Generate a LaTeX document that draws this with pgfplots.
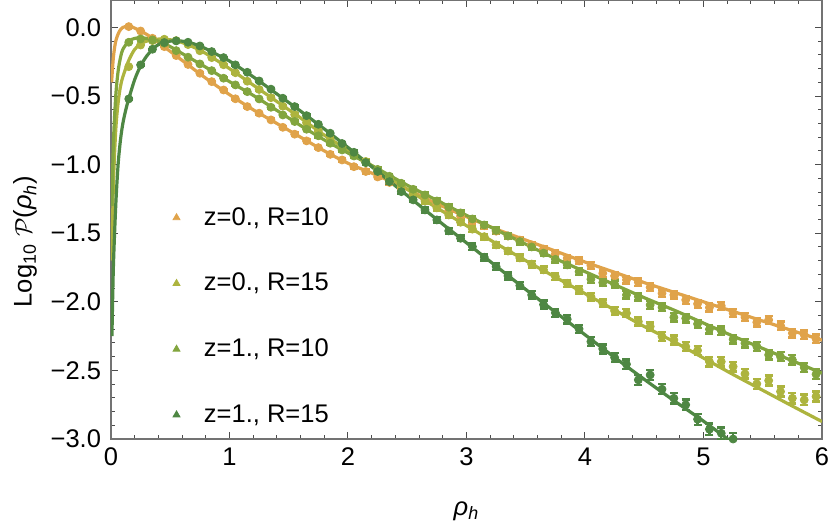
\documentclass[border=0pt]{standalone}
\usepackage{fontspec}
\setmainfont{Liberation Sans}
\usepackage{pgfplots}
\pgfplotsset{compat=1.18}
\usepackage{pgfplotstable}
\definecolor{cOrange}{HTML}{E0A34A}
\definecolor{cYellow}{HTML}{ADB43E}
\definecolor{cMid}{HTML}{82A53E}
\definecolor{cDark}{HTML}{4E8743}

% binned points: z=0., R=10
\pgfplotstableread{
x y
0.15 0.006
0.25 -0.026
0.35 -0.079
0.45 -0.140
0.55 -0.205
0.65 -0.270
0.75 -0.334
0.85 -0.395
0.95 -0.456
1.05 -0.520
1.15 -0.577
1.25 -0.625
1.35 -0.674
1.45 -0.728
1.55 -0.778
1.65 -0.827
1.75 -0.876
1.85 -0.925
1.95 -0.966
2.05 -1.015
2.15 -1.050
2.25 -1.090
2.35 -1.130
2.45 -1.175
2.55 -1.215
2.65 -1.255
2.75 -1.295
2.85 -1.335
2.95 -1.375
3.05 -1.410
3.15 -1.445
3.25 -1.485
3.35 -1.520
3.45 -1.550
3.55 -1.585
3.65 -1.615
3.75 -1.650
3.85 -1.682
3.95 -1.702
4.05 -1.736
4.15 -1.792
4.25 -1.811
4.35 -1.840
4.45 -1.857
4.55 -1.894
4.65 -1.938
4.75 -1.950
4.85 -1.986
4.95 -2.015
5.05 -2.042
5.15 -2.030
5.25 -2.083
5.35 -2.112
5.45 -2.149
5.55 -2.132
5.65 -2.173
5.75 -2.229
5.85 -2.241
5.95 -2.270
}\ptsA

% binned points: z=0., R=15
\pgfplotstableread{
x y
0.15 -0.286
0.25 -0.128
0.35 -0.096
0.45 -0.086
0.55 -0.096
0.65 -0.125
0.75 -0.170
0.85 -0.220
0.95 -0.272
1.05 -0.330
1.15 -0.392
1.25 -0.452
1.35 -0.512
1.45 -0.574
1.55 -0.635
1.65 -0.694
1.75 -0.755
1.85 -0.815
1.95 -0.870
2.05 -0.917
2.15 -0.977
2.25 -1.037
2.35 -1.097
2.45 -1.157
2.55 -1.210
2.65 -1.265
2.75 -1.315
2.85 -1.367
2.95 -1.420
3.05 -1.470
3.15 -1.525
3.25 -1.585
3.35 -1.630
3.45 -1.680
3.55 -1.725
3.65 -1.767
3.75 -1.815
3.85 -1.865
3.95 -1.913
4.05 -1.962
4.15 -2.010
4.25 -2.066
4.35 -2.083
4.45 -2.144
4.55 -2.180
4.65 -2.253
4.75 -2.278
4.85 -2.326
4.95 -2.355
5.05 -2.436
5.15 -2.436
5.25 -2.472
5.35 -2.525
5.45 -2.598
5.55 -2.574
5.65 -2.654
5.75 -2.703
5.85 -2.715
5.95 -2.690
}\ptsB

% binned points: z=1., R=10
\pgfplotstableread{
x y
0.15 -0.108
0.25 -0.084
0.35 -0.091
0.45 -0.115
0.55 -0.169
0.65 -0.217
0.75 -0.266
0.85 -0.315
0.95 -0.370
1.05 -0.419
1.15 -0.468
1.25 -0.521
1.35 -0.582
1.45 -0.638
1.55 -0.686
1.65 -0.742
1.75 -0.790
1.85 -0.844
1.95 -0.893
2.05 -0.937
2.15 -0.985
2.25 -1.035
2.35 -1.085
2.45 -1.136
2.55 -1.180
2.65 -1.221
2.75 -1.265
2.85 -1.310
2.95 -1.352
3.05 -1.396
3.15 -1.440
3.25 -1.480
3.35 -1.520
3.45 -1.561
3.55 -1.600
3.65 -1.645
3.75 -1.690
3.85 -1.731
3.95 -1.780
4.05 -1.835
4.15 -1.860
4.25 -1.872
4.35 -1.950
4.45 -1.962
4.55 -2.023
4.65 -2.040
4.75 -2.113
4.85 -2.120
4.95 -2.161
5.05 -2.200
5.15 -2.210
5.25 -2.273
5.35 -2.302
5.45 -2.326
5.55 -2.387
5.65 -2.400
5.75 -2.423
5.85 -2.479
5.95 -2.528
}\ptsC

% binned points: z=1., R=15
\pgfplotstableread{
x y
0.15 -0.521
0.25 -0.273
0.35 -0.159
0.45 -0.110
0.55 -0.098
0.65 -0.108
0.75 -0.135
0.85 -0.176
0.95 -0.220
1.05 -0.273
1.15 -0.327
1.25 -0.390
1.35 -0.450
1.45 -0.516
1.55 -0.577
1.65 -0.643
1.75 -0.706
1.85 -0.771
1.95 -0.846
2.05 -0.910
2.15 -0.985
2.25 -1.050
2.35 -1.124
2.45 -1.197
2.55 -1.257
2.65 -1.330
2.75 -1.403
2.85 -1.483
2.95 -1.537
3.05 -1.598
3.15 -1.675
3.25 -1.743
3.35 -1.811
3.45 -1.882
3.55 -1.950
3.65 -2.020
3.75 -2.080
3.85 -2.127
3.95 -2.198
4.05 -2.290
4.15 -2.343
4.25 -2.406
4.35 -2.455
4.45 -2.569
4.55 -2.533
4.65 -2.637
4.75 -2.703
4.85 -2.751
4.95 -2.856
5.05 -2.929
5.15 -2.958
5.25 -3.000
}\ptsD

% fitted curves
\pgfplotstableread{
x y
0.005 -0.40
0.02 -0.22
0.04 -0.10
0.07 -0.03
0.10 0.000
0.15 0.010
0.20 -0.005
0.30 -0.050
0.40 -0.110
0.60 -0.240
0.80 -0.370
1.00 -0.490
1.20 -0.600
1.40 -0.700
1.60 -0.800
1.80 -0.900
2.00 -0.990
2.25 -1.080
2.50 -1.180
2.75 -1.285
3.00 -1.380
3.25 -1.470
3.50 -1.550
3.75 -1.630
4.00 -1.710
4.25 -1.785
4.50 -1.860
4.75 -1.930
5.00 -2.000
5.25 -2.070
5.50 -2.140
5.75 -2.210
6.00 -2.280
}\fitA

\pgfplotstableread{
x y
0.008 -1.70
0.02 -1.15
0.04 -0.75
0.06 -0.55
0.08 -0.43
0.10 -0.36
0.15 -0.24
0.20 -0.16
0.25 -0.12
0.30 -0.10
0.40 -0.085
0.50 -0.090
0.60 -0.110
0.70 -0.145
0.80 -0.190
1.00 -0.300
1.20 -0.420
1.40 -0.540
1.60 -0.660
1.80 -0.785
2.00 -0.895
2.25 -1.035
2.50 -1.180
2.75 -1.315
3.00 -1.445
3.25 -1.575
3.50 -1.700
3.75 -1.820
4.00 -1.940
4.25 -2.060
4.50 -2.180
4.75 -2.290
5.00 -2.410
5.25 -2.530
5.50 -2.645
5.75 -2.760
6.00 -2.873
}\fitB

\pgfplotstableread{
x y
0.008 -1.30
0.02 -0.85
0.04 -0.50
0.06 -0.32
0.08 -0.22
0.10 -0.16
0.15 -0.10
0.20 -0.08
0.25 -0.075
0.30 -0.080
0.40 -0.100
0.50 -0.140
0.60 -0.190
0.80 -0.290
1.00 -0.395
1.20 -0.495
1.40 -0.605
1.60 -0.715
1.80 -0.820
2.00 -0.915
2.25 -1.030
2.50 -1.150
2.75 -1.260
3.00 -1.370
3.25 -1.475
3.50 -1.580
3.75 -1.685
4.00 -1.780
4.25 -1.875
4.50 -1.970
4.75 -2.060
5.00 -2.155
5.25 -2.250
5.50 -2.340
5.75 -2.430
6.00 -2.520
}\fitC

\pgfplotstableread{
x y
0.008 -2.25
0.02 -1.75
0.04 -1.30
0.06 -1.00
0.08 -0.82
0.10 -0.70
0.125 -0.60
0.15 -0.52
0.20 -0.38
0.25 -0.28
0.30 -0.21
0.35 -0.16
0.40 -0.125
0.50 -0.100
0.60 -0.100
0.70 -0.120
0.80 -0.155
0.90 -0.200
1.00 -0.245
1.20 -0.360
1.40 -0.485
1.60 -0.610
1.80 -0.740
2.00 -0.875
2.25 -1.050
2.50 -1.225
2.75 -1.400
3.00 -1.570
3.25 -1.740
3.50 -1.910
3.75 -2.075
4.00 -2.240
4.25 -2.405
4.50 -2.565
4.75 -2.720
5.00 -2.870
5.25 -3.030
}\fitD

\begin{document}
\begin{tikzpicture}
\useasboundingbox (-55.5bp,-42.5bp) rectangle (359.5bp,219.5bp);
\begin{axis}[
    scale only axis,
    width=355.5bp, height=219.5bp,
    xmin=0, xmax=6,
    ymin=-3, ymax=0.2,
    xtick={0,1,2,3,4,5,6},
    minor x tick num=4,
    ytick={-3,-2.5,-2,-1.5,-1,-0.5,0},
    yticklabels={−3.0,−2.5,−2.0,−1.5,−1.0,−0.5,0.0},
    minor y tick num=4,
    tick align=inside,
    major tick length=3.5bp,
    minor tick length=2bp,
    tick style={black!70, line width=0.5bp},
    axis line style={black!55, line width=0.6bp},
    ticklabel style={font=\fontsize{12.8}{15}\selectfont},
    xticklabel style={yshift=-1bp},
    yticklabel style={xshift=-1.5bp},
    xticklabels={0,1,2,3,4,5,6},
    xlabel={\textit{ρ}\textsubscript{\textit{h}}},
    ylabel={Log\textsubscript{10} $\mathcal{P}$(\textit{ρ}\textsubscript{\textit{h}})},
    every axis x label/.style={at={(axis description cs:0.5,-0.164)}, anchor=center,
        font=\fontsize{12.8}{15}\selectfont},
    every axis y label/.style={at={(axis description cs:-0.121,0.45)}, rotate=90, anchor=center,
        font=\fontsize{12.8}{15}\selectfont},
    legend style={draw=none, fill=none, at={(axis cs:0.47,-1.25)}, anchor=north west,
        font=\fontsize{12.8}{15}\selectfont, row sep=18.5bp,
        /tikz/every odd column/.append style={column sep=10bp}},
    legend cell align=left,
]
% legend markers
\addlegendimage{only marks, mark=triangle*, mark size=2bp, color=cOrange}
\addlegendentry{z=0., R=10}
\addlegendimage{only marks, mark=triangle*, mark size=2bp, color=cYellow}
\addlegendentry{z=0., R=15}
\addlegendimage{only marks, mark=triangle*, mark size=2bp, color=cMid}
\addlegendentry{z=1., R=10}
\addlegendimage{only marks, mark=triangle*, mark size=2bp, color=cDark}
\addlegendentry{z=1., R=15}

% fits
\addplot[forget plot, cOrange, line width=1.6bp, smooth] table {\fitA};
\addplot[forget plot, cYellow, line width=1.6bp, smooth] table {\fitB};
\addplot[forget plot, cMid, line width=1.6bp, smooth] table {\fitC};
\addplot[forget plot, cDark, line width=1.6bp, smooth] table {\fitD};

% data with error bars
\pgfplotsset{pts/.style={forget plot, only marks, mark=*, mark size=2bp,
    error bars/.cd, y dir=both, y fixed relative=0.014,
    error mark=-, error bar style={line width=1.2bp},
    error mark options={rotate=90, mark size=2bp, line width=1.2bp}}}
\addplot[cOrange, pts] table {\ptsA};
\addplot[cYellow, pts] table {\ptsB};
\addplot[cMid, pts] table {\ptsC};
\addplot[cDark, pts] table {\ptsD};
\end{axis}
\end{tikzpicture}
\end{document}
